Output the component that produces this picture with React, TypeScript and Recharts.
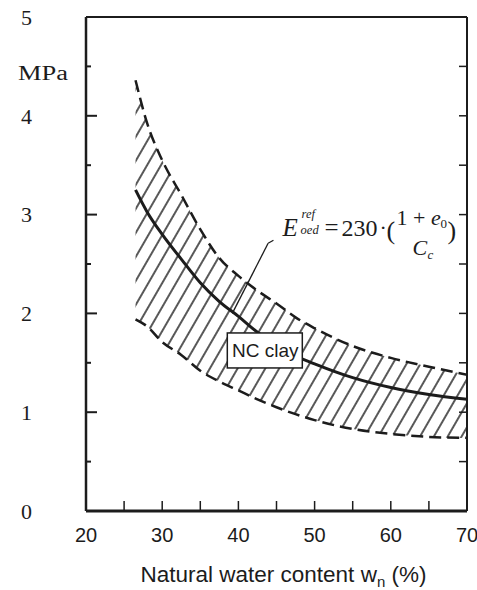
import { ComposedChart, Area, Line, XAxis, YAxis, ReferenceDot, ReferenceLine } from 'recharts'

// natural water content w_n (%) where the curves were read
const waterContent = [26.5, 28, 30, 32.5, 35, 37.5, 40, 42.5, 45, 47.5, 50, 55, 60, 65, 70]
// E_oed^ref (MPa)
const upperBound = [4.36, 3.93, 3.55, 3.2, 2.85, 2.56, 2.38, 2.23, 2.1, 1.96, 1.85, 1.67, 1.55, 1.46, 1.38]
const ncClay = [3.25, 3.03, 2.8, 2.55, 2.31, 2.12, 1.97, 1.81, 1.69, 1.57, 1.49, 1.35, 1.25, 1.18, 1.13]
const lowerBound = [1.94, 1.87, 1.71, 1.58, 1.42, 1.31, 1.22, 1.13, 1.05, 0.98, 0.92, 0.83, 0.78, 0.75, 0.74]

// ticks every 5 % / 0.5 MPa, labels only on the round ones
const xTicks = [20, 25, 30, 35, 40, 45, 50, 55, 60, 65, 70]
const yTicks = [0, 0.5, 1, 1.5, 2, 2.5, 3, 3.5, 4, 4.5, 5]

// annotation anchors (data coords)
const formulaAnchor = { x: 45.8, y: 2.78 }
const leaderHook = [{ x: 44.6, y: 2.74 }, { x: 43.9, y: 2.71 }]
const leaderLine = [{ x: 43.9, y: 2.71 }, { x: 39.2, y: 2.0 }]
const boxAnchor = { x: 43.4, y: 1.63 }

const data = waterContent.map((w, i) => ({
  w,
  upper: upperBound[i],
  nc: ncClay[i],
  lower: lowerBound[i],
  band: [lowerBound[i], upperBound[i]],
}))

const INK = '#1c1c1c'
const SERIF = 'Liberation Serif, Times New Roman, serif'
const SANS = 'Liberation Sans, Arial, sans-serif'

const X_MARGIN = 17
const Y_MARGIN = 54

// inward tick + label for the bottom axis
const BottomTick = ({ x, y, payload }: any) => {
  const v = payload.value
  const ay = y - X_MARGIN
  const inner = v !== 20 && v !== 70
  return (
    <g>
      {inner && <line x1={x} x2={x} y1={ay} y2={ay - 10} stroke={INK} strokeWidth={1.5} />}
      {v % 10 === 0 && (
        <text x={x} y={y} dy="0.71em" textAnchor="middle" fontSize={20} fontFamily={SANS} fill={INK}>
          {v}
        </text>
      )}
    </g>
  )
}

const TopTick = ({ x, y, payload }: any) => {
  const v = payload.value
  if (v === 20 || v === 70) return <g />
  return <line x1={x} x2={x} y1={y} y2={y + 8} stroke={INK} strokeWidth={1.5} />
}

const LeftTick = ({ x, y, payload }: any) => {
  const v = payload.value
  const ax = x + Y_MARGIN
  const major = Number.isInteger(v)
  const inner = v !== 0 && v !== 5
  return (
    <g>
      {inner && <line x1={ax} x2={ax + (major ? 11 : 5)} y1={y} y2={y} stroke={INK} strokeWidth={2} />}
      {major && (
        <text x={x} y={y} dy="0.355em" textAnchor="end" fontSize={22} fontFamily={SERIF} fill={INK}>
          {v}
        </text>
      )}
    </g>
  )
}

const RightTick = ({ x, y, payload }: any) => {
  const v = payload.value
  if (v === 0 || v === 5) return <g />
  return <line x1={x} x2={x - 8} y1={y} y2={y} stroke={INK} strokeWidth={1.5} />
}

const XTitle = (props: any) => {
  const vb = props.viewBox || { x: 0, y: 0, width: 0 }
  return (
    <text x={vb.x + vb.width / 2 + 7} y={vb.y + 71} textAnchor="middle" fontSize={22.5} fontFamily={SANS} fill={INK}>
      Natural water content w
      <tspan dy={5} fontSize={15}>n</tspan>
      <tspan dy={-5}> (%)</tspan>
    </text>
  )
}

const UnitLabel = (props: any) => {
  const vb = props.viewBox || { x: 0, y: 0 }
  return (
    <text x={18} y={vb.y + 63} fontSize={20} fontFamily={SERIF} fill={INK} textLength={50} lengthAdjust="spacingAndGlyphs">
      MPa
    </text>
  )
}

const Formula = ({ cx, cy }: any) => (
  <g fill={INK} fontFamily={SERIF}>
    <text x={cx} y={cy} fontSize={25} fontStyle="italic">E</text>
    <text x={cx + 19} y={cy - 18} fontSize={12.5} fontStyle="italic">ref</text>
    <text x={cx + 18} y={cy - 2} fontSize={12.5} fontStyle="italic">oed</text>
    <text x={cx + 42} y={cy} fontSize={25}>=</text>
    <text x={cx + 59} y={cy} fontSize={24}>230</text>
    <text x={cx + 97} y={cy - 1} fontSize={22}>·</text>
    <text x={cx + 104} y={cy + 3} fontSize={26}>(</text>
    <text x={cx + 114} y={cy - 11} fontSize={22}>1 + <tspan fontStyle="italic">e</tspan></text>
    <text x={cx + 158} y={cy - 8} fontSize={13}>0</text>
    <text x={cx + 130} y={cy + 19} fontSize={22} fontStyle="italic">C</text>
    <text x={cx + 145} y={cy + 23} fontSize={13} fontStyle="italic">c</text>
    <text x={cx + 165} y={cy + 3} fontSize={26}>)</text>
  </g>
)

const ClayBox = ({ cx, cy }: any) => (
  <g>
    <rect x={cx - 37} y={cy - 17} width={75} height={35} fill="#fff" stroke={INK} strokeWidth={1.5} />
    <text x={cx + 1} y={cy + 7} textAnchor="middle" fontSize={19} fontFamily={SANS} fill={INK}>
      NC clay
    </text>
  </g>
)

export default function App() {
  return (
    <div style={{ position: 'absolute', left: 0, top: 0, width: 477, height: 590, background: '#fff' }}>
      <ComposedChart width={477} height={590} data={data} margin={{ top: 0, right: 0, bottom: 0, left: 0 }}>
        <defs>
          <pattern id="hatch" width="12" height="12" patternUnits="userSpaceOnUse" patternTransform="rotate(30)">
            <line x1="6" y1="0" x2="6" y2="12" stroke="#111" strokeWidth="1.4" />
          </pattern>
        </defs>

        <XAxis
          xAxisId="x"
          dataKey="w"
          type="number"
          domain={[20, 70]}
          allowDataOverflow
          ticks={xTicks}
          interval={0}
          height={79}
          tickLine={false}
          tickSize={0}
          tickMargin={X_MARGIN}
          axisLine={{ stroke: INK, strokeWidth: 3 }}
          tick={BottomTick}
          label={XTitle}
        />
        <XAxis
          xAxisId="xTop"
          orientation="top"
          type="number"
          domain={[20, 70]}
          allowDataOverflow
          ticks={xTicks}
          interval={0}
          height={17}
          tickLine={false}
          tickSize={0}
          tickMargin={0}
          axisLine={{ stroke: INK, strokeWidth: 2 }}
          tick={TopTick}
        />

        <YAxis
          yAxisId="y"
          type="number"
          domain={[0, 5]}
          allowDataOverflow
          ticks={yTicks}
          interval={0}
          width={86}
          tickLine={false}
          tickSize={0}
          tickMargin={Y_MARGIN}
          axisLine={{ stroke: INK, strokeWidth: 2.5 }}
          tick={LeftTick}
          label={UnitLabel}
        />
        <YAxis
          yAxisId="yRight"
          orientation="right"
          type="number"
          domain={[0, 5]}
          allowDataOverflow
          ticks={yTicks}
          interval={0}
          width={10}
          tickLine={false}
          tickSize={0}
          tickMargin={0}
          axisLine={{ stroke: INK, strokeWidth: 2 }}
          tick={RightTick}
        />

        <Area xAxisId="x" yAxisId="y" type="monotone" dataKey="band" stroke="none" fill="url(#hatch)" fillOpacity={1} isAnimationActive={false} />
        <Line xAxisId="x" yAxisId="y" type="monotone" dataKey="upper" stroke={INK} strokeWidth={2.5} strokeDasharray="12 6" dot={false} isAnimationActive={false} />
        <Line xAxisId="x" yAxisId="y" type="monotone" dataKey="lower" stroke={INK} strokeWidth={2.5} strokeDasharray="12 6" dot={false} isAnimationActive={false} />
        <Line xAxisId="x" yAxisId="y" type="monotone" dataKey="nc" stroke={INK} strokeWidth={3} dot={false} isAnimationActive={false} />

        <ReferenceLine xAxisId="x" yAxisId="y" segment={leaderHook} stroke={INK} strokeWidth={1.3} />
        <ReferenceLine xAxisId="x" yAxisId="y" segment={leaderLine} stroke={INK} strokeWidth={1.3} />
        <ReferenceDot xAxisId="x" yAxisId="y" x={formulaAnchor.x} y={formulaAnchor.y} shape={Formula} />
        <ReferenceDot xAxisId="x" yAxisId="y" x={boxAnchor.x} y={boxAnchor.y} shape={ClayBox} />
      </ComposedChart>
    </div>
  )
}
